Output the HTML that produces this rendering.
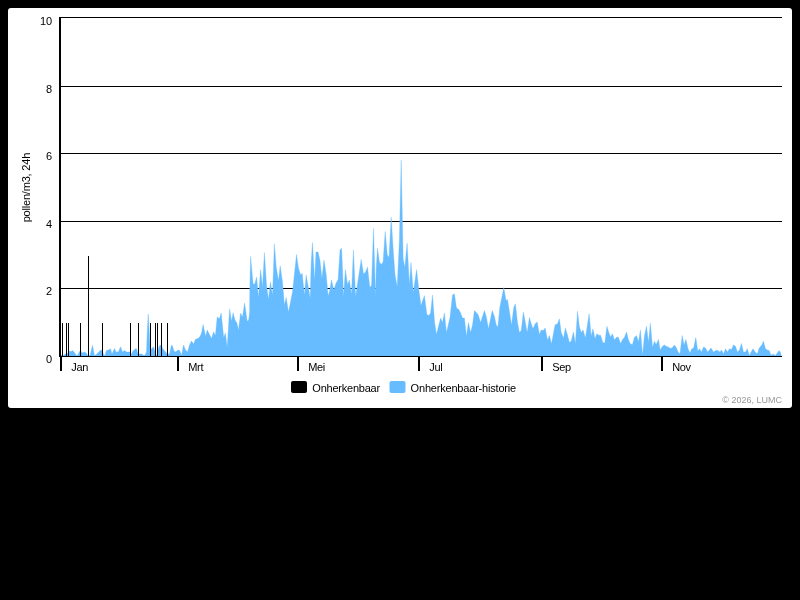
<!DOCTYPE html>
<html><head><meta charset="utf-8"><title>chart</title>
<style>
html,body{margin:0;padding:0;background:#000;}
body{width:800px;height:600px;overflow:hidden;font-family:"Liberation Sans",sans-serif;}
#c{position:absolute;left:8px;top:8px;width:784px;height:400px;background:#fff;border-radius:3px;}
svg{position:absolute;left:0;top:0;will-change:transform;}
text{font-family:"Liberation Sans",sans-serif;}
.l{font-size:11px;fill:#000;}
</style></head><body>
<div id="c"></div>
<svg width="800" height="600" viewBox="0 0 800 600">
<rect x="60" y="288" width="722" height="1" fill="#000"/><rect x="60" y="221" width="722" height="1" fill="#000"/><rect x="60" y="153" width="722" height="1" fill="#000"/><rect x="60" y="86" width="722" height="1" fill="#000"/><rect x="60" y="17" width="722" height="1" fill="#000"/>
<polygon points="61,356.5 61.0,354.8 63.0,355.5 64.5,354.5 66.0,353.8 67.5,353.5 69.5,351.0 71.0,351.8 72.5,350.5 74.0,352.0 76.5,355.5 77.5,355.5 79.5,351.5 81.0,351.2 82.5,353.0 84.5,352.0 86.0,353.0 88.0,355.5 90.0,355.5 92.5,345.2 94.5,355.5 96.0,354.8 100.0,350.8 102.0,350.0 104.0,355.5 105.0,355.0 106.5,350.5 109.0,349.8 110.5,348.8 112.0,354.0 114.5,348.5 116.0,352.0 118.5,351.8 120.5,346.8 122.5,352.0 124.5,350.5 126.5,352.0 130.0,352.0 131.0,354.5 133.0,351.0 135.5,348.8 136.5,348.8 138.0,353.5 140.0,354.0 142.0,354.0 144.0,355.5 145.0,355.0 146.5,352.0 147.3,330.0 148.2,314.0 149.2,330.0 150.2,349.0 151.5,349.0 153.5,346.8 154.5,350.0 156.2,355.5 157.0,355.5 158.5,348.0 160.0,345.0 161.2,345.5 163.0,349.0 165.5,352.0 167.5,354.0 169.5,354.0 171.5,345.0 172.5,346.0 174.0,351.0 175.5,352.0 178.0,350.0 179.7,350.5 181.5,355.5 183.5,345.0 185.5,350.0 187.5,352.0 189.5,345.0 191.5,341.0 193.5,344.0 195.5,339.2 198.0,338.5 200.0,336.5 201.5,333.0 203.1,324.4 205.6,336.2 207.2,330.0 211.5,338.5 213.5,331.9 215.4,335.6 217.2,316.9 219.4,318.8 221.2,313.1 223.7,337.5 225.4,333.1 227.2,347.5 229.6,308.8 231.5,321.2 233.1,312.8 235.0,320.0 236.9,323.1 238.5,330.0 240.6,313.1 242.5,316.9 244.6,303.1 247.2,321.2 248.7,320.0 249.6,312.0 249.8,289.5 250.6,256.4 253.1,283.9 254.8,283.9 256.6,277.0 258.5,297.6 260.6,269.5 262.5,287.0 264.4,252.6 266.6,285.8 268.5,299.5 270.4,282.0 272.5,295.1 274.4,243.9 276.2,267.0 278.5,280.8 280.2,265.8 282.5,282.0 284.4,305.1 286.2,297.6 288.5,312.0 292.5,292.0 296.5,254.5 298.5,268.2 300.6,275.1 302.2,273.2 304.4,295.1 306.2,275.1 308.5,288.2 310.2,298.2 311.2,262.0 312.5,242.6 314.6,280.8 316.0,252.0 318.1,252.0 320.0,260.8 321.9,278.2 324.0,260.1 326.2,274.5 328.1,295.8 329.4,292.0 331.5,280.1 333.8,290.1 336.0,283.2 338.1,279.5 340.0,250.1 341.6,248.2 342.5,268.2 343.5,297.0 345.4,269.5 347.5,284.5 349.4,280.1 351.5,294.5 353.4,250.1 355.6,296.4 361.2,259.5 363.5,273.9 365.6,272.0 367.5,267.0 369.8,287.0 371.5,285.8 373.5,228.5 375.6,297.0 376.2,268.0 377.5,248.2 379.4,262.0 381.2,264.5 383.1,262.0 385.2,231.5 387.2,254.5 389.0,257.6 391.2,217.2 393.0,247.0 395.0,274.5 397.2,287.0 399.4,240.0 401.2,160.2 403.1,258.0 404.8,267.6 407.1,243.2 409.4,284.5 411.0,262.6 413.3,292.3 416.6,269.5 418.8,289.5 421.0,305.6 424.4,295.6 426.9,314.4 428.8,315.6 430.6,313.1 432.5,295.0 434.6,322.5 436.5,334.4 440.6,318.1 442.5,322.5 444.4,313.1 446.5,332.5 450.0,317.5 452.5,295.0 454.4,293.8 456.5,308.1 458.8,309.4 460.6,313.1 462.5,318.1 464.4,318.1 466.5,336.2 468.4,322.5 470.6,332.5 472.5,325.0 474.4,310.6 478.1,314.4 480.6,322.5 484.4,310.6 486.2,316.2 488.5,328.8 492.2,310.6 494.4,316.2 496.2,325.0 497.9,326.9 499.8,307.5 503.8,287.5 506.0,300.6 507.5,299.4 511.5,325.0 513.8,307.5 515.4,303.8 517.5,322.5 519.4,332.5 521.2,330.6 523.4,311.9 527.2,332.5 529.4,317.5 531.2,323.8 533.1,328.8 535.2,323.8 537.2,321.9 539.4,334.4 541.2,330.0 543.1,330.6 545.2,328.1 547.5,340.0 549.4,335.6 551.5,343.8 555.0,325.0 557.5,323.8 559.4,318.8 561.2,332.5 563.5,338.1 565.4,328.1 567.5,335.0 569.4,342.5 571.2,341.2 573.4,331.9 575.4,343.8 577.5,311.2 579.4,326.9 581.2,332.5 583.1,330.0 585.4,338.1 589.1,313.8 591.2,336.2 592.9,328.8 595.0,338.4 596.9,333.8 598.8,335.2 600.6,335.2 602.8,342.5 604.8,343.1 606.9,326.2 608.8,332.5 610.6,336.9 612.5,333.8 614.4,340.0 616.5,337.2 618.4,337.2 620.6,343.8 622.5,339.4 624.4,337.5 626.5,331.9 628.5,340.0 630.4,344.0 632.5,344.4 634.4,337.5 636.5,335.6 638.5,341.9 640.4,330.0 642.5,355.0 644.4,336.2 646.5,326.2 648.5,342.5 650.4,323.1 652.5,347.5 654.4,341.2 656.2,344.4 658.5,339.4 660.2,350.0 662.5,346.2 664.4,345.0 666.2,346.2 668.1,346.9 670.6,348.5 672.5,347.5 674.4,345.0 676.2,347.5 678.1,351.9 680.0,353.8 682.2,335.6 684.0,345.0 685.9,339.4 688.1,348.8 689.9,353.1 691.8,348.8 693.6,348.1 695.8,337.5 697.8,351.2 699.5,348.8 701.5,351.9 703.6,346.9 705.5,348.1 707.6,351.9 711.1,348.1 713.4,351.9 716.8,350.0 719.9,351.9 721.5,350.0 723.6,353.8 725.5,348.8 727.4,351.9 729.5,348.8 731.5,349.4 733.4,345.0 735.5,346.2 737.4,351.9 739.5,350.0 741.5,343.5 743.4,351.9 745.5,351.9 747.4,348.8 749.2,355.6 753.0,348.8 755.5,352.5 757.4,353.8 759.2,348.1 761.8,345.0 763.4,341.2 765.5,348.8 767.4,350.0 769.2,350.6 771.1,355.2 773.0,354.0 775.5,355.6 779.0,350.6 780.5,352.5 781.1,355.6 782,356.5" fill="#66bcff" stroke="#66bcff" stroke-width="0.35" stroke-linejoin="miter" stroke-miterlimit="6"/>
<rect x="62.0" y="323.0" width="1" height="34.0" fill="#000"/><rect x="66.0" y="323.0" width="1" height="34.0" fill="#000"/><rect x="68.0" y="323.0" width="1" height="34.0" fill="#000"/><rect x="80.0" y="323.0" width="1" height="34.0" fill="#000"/><rect x="102.0" y="323.0" width="1" height="34.0" fill="#000"/><rect x="130.0" y="323.0" width="1" height="34.0" fill="#000"/><rect x="138.0" y="323.0" width="1" height="34.0" fill="#000"/><rect x="150.0" y="323.0" width="1" height="34.0" fill="#000"/><rect x="155.0" y="323.0" width="1" height="34.0" fill="#000"/><rect x="157.0" y="323.0" width="1" height="34.0" fill="#000"/><rect x="161.0" y="323.0" width="1" height="34.0" fill="#000"/><rect x="167.0" y="323.0" width="1" height="34.0" fill="#000"/><rect x="88.0" y="256.0" width="1" height="101.0" fill="#000"/>
<rect x="59" y="17" width="2" height="340" fill="#000"/>
<rect x="59" y="356" width="723" height="1" fill="#000"/>
<rect x="60" y="356" width="2" height="15" fill="#000"/><rect x="177" y="356" width="2" height="15" fill="#000"/><rect x="297" y="356" width="2" height="15" fill="#000"/><rect x="418" y="356" width="2" height="15" fill="#000"/><rect x="541" y="356" width="2" height="15" fill="#000"/><rect x="661" y="356" width="2" height="15" fill="#000"/>
<text x="71.2" y="371" class="l" textLength="17.13" lengthAdjust="spacing">Jan</text><text x="188.2" y="371" class="l" textLength="15.33" lengthAdjust="spacing">Mrt</text><text x="308.2" y="371" class="l" textLength="17.11" lengthAdjust="spacing">Mei</text><text x="429.2" y="371" class="l" textLength="13.57" lengthAdjust="spacing">Jul</text><text x="552.2" y="371" class="l" textLength="18.89" lengthAdjust="spacing">Sep</text><text x="672.2" y="371" class="l" textLength="18.88" lengthAdjust="spacing">Nov</text>
<text x="52.2" y="363" text-anchor="end" class="l">0</text><text x="52.2" y="295" text-anchor="end" class="l">2</text><text x="52.2" y="228" text-anchor="end" class="l">4</text><text x="52.2" y="160" text-anchor="end" class="l">6</text><text x="52.2" y="93" text-anchor="end" class="l">8</text><text x="52.2" y="25" text-anchor="end" class="l">10</text>
<text transform="translate(30.2,187.5) rotate(-90)" text-anchor="middle" class="l" textLength="69.64" lengthAdjust="spacing">pollen/m3, 24h</text>
<rect x="291" y="381" width="16" height="12" rx="2" fill="#000"/>
<text x="312.3" y="392" class="l" textLength="67.87" lengthAdjust="spacing">Onherkenbaar</text>
<rect x="389.5" y="381" width="16" height="12" rx="2" fill="#66bcff"/>
<text x="410.6" y="392" class="l" textLength="105.62" lengthAdjust="spacing">Onherkenbaar-historie</text>
<text x="782" y="402.7" text-anchor="end" style="font-size:9px;fill:#999">© 2026, LUMC</text>
</svg>
</body></html>
